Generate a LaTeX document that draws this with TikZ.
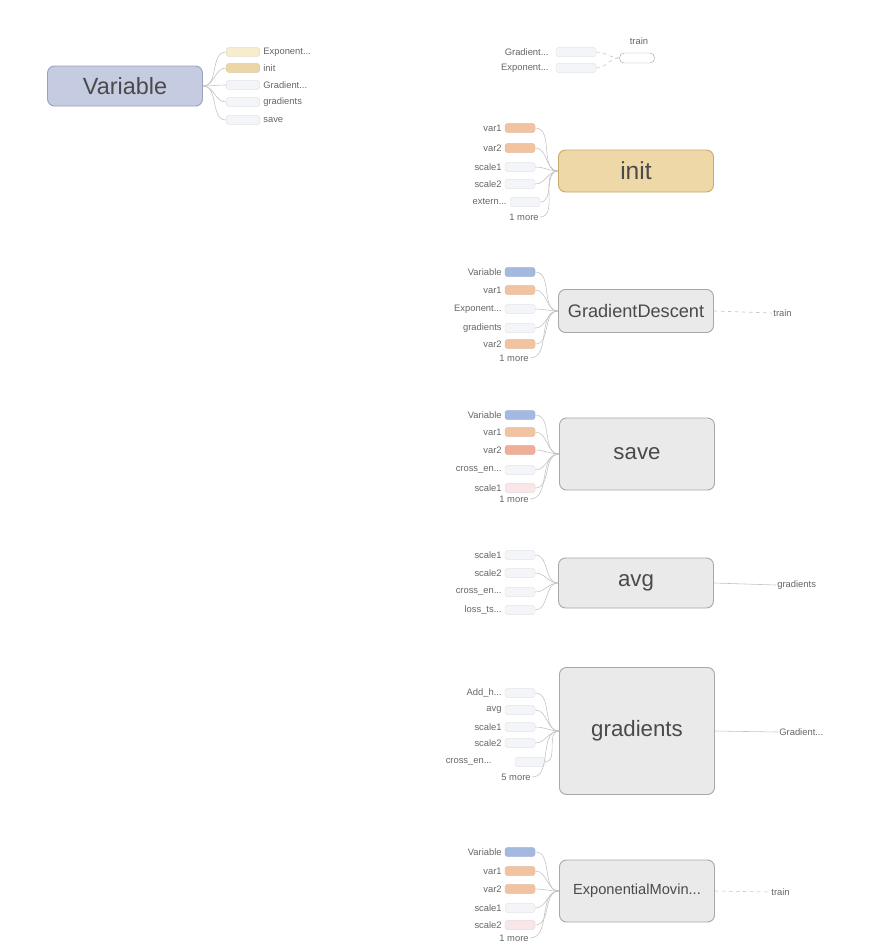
\documentclass[tikz,border=0pt]{standalone}
\usepackage{fontspec}
\setmainfont{Liberation Sans}
\definecolor{varfill}{HTML}{C5CBE1}
\definecolor{varline}{HTML}{9AA1BC}
\definecolor{initfill}{HTML}{EFD8A8}
\definecolor{initline}{HTML}{C9A96C}
\definecolor{opfill}{HTML}{EAEAEA}
\definecolor{opline}{HTML}{A8A8A8}
\definecolor{optext}{HTML}{4A4A4A}
\definecolor{lbltext}{HTML}{666666}
\definecolor{stubor}{HTML}{F2C3A0}
\definecolor{stubrd}{HTML}{EFAE96}
\definecolor{stubbl}{HTML}{A3B9DF}
\definecolor{stubtn}{HTML}{ECD5A6}
\definecolor{stubyl}{HTML}{F6EDCF}
\definecolor{stublt}{HTML}{F3F5F9}
\definecolor{stubpk}{HTML}{F8E6E8}
\definecolor{edgec}{HTML}{C4C4C4}

\tikzset{
  op/.style={draw=opline, fill=opfill, rounded corners=6pt, line width=0.8pt,
    minimum width=46.5mm, font=\fontsize{19}{19}\selectfont, text=optext},
  lbl/.style={anchor=east, font=\fontsize{8}{8}\selectfont, text=lbltext, inner sep=1pt},
  lblr/.style={anchor=west, font=\fontsize{8}{8}\selectfont, text=lbltext, inner sep=1pt},
  stub/.style={fill=#1, draw=#1!85!gray, rounded corners=1.5pt,
    minimum width=9mm, minimum height=2.6mm, inner sep=0pt},
  edge/.style={draw=edgec, line width=0.5pt}
}

\begin{document}
\begin{tikzpicture}[x=0.3mm,y=-0.3mm]
  \useasboundingbox[fill=white] (0,0) rectangle (870,951);

  % Variable
  \node[op, draw=varline, fill=varfill, minimum height=12mm, font=\fontsize{20}{20}\selectfont] at (125,86) (Variable) {Variable};

  \node[stub=stubyl, minimum width=10mm] at (243,52) (v1) {};
  \node[stub=stubtn, minimum width=10mm] at (243,68) (v2) {};
  \node[stub=stublt, minimum width=10mm] at (243,85) (v3) {};
  \node[stub=stublt, minimum width=10mm] at (243,102) (v4) {};
  \node[stub=stublt, minimum width=10mm] at (243,120) (v5) {};

  \node[lblr] at (262,52) (v1-l) {Exponent...};
  \node[lblr] at (262,68) (v2-l) {init};
  \node[lblr] at (262,85) (v3-l) {Gradient...};
  \node[lblr] at (262,102) (v4-l) {gradients};
  \node[lblr] at (262,120) (v5-l) {save};

  \draw[edge] (Variable.east) to[out=0,in=180] (v1.west);
  \draw[edge] (Variable.east) to[out=0,in=180] (v2.west);
  \draw[edge] (Variable.east) to[out=0,in=180] (v3.west);
  \draw[edge] (Variable.east) to[out=0,in=180] (v4.west);
  \draw[edge] (Variable.east) to[out=0,in=180] (v5.west);

  % train
  \node[draw=opline, fill=white, rounded corners=4pt, minimum width=10.5mm, minimum height=3mm, inner sep=0pt] at (637,58) (train) {};
  \node[font=\fontsize{8}{8}\selectfont, text=lbltext] at (639,41) (train-l) {train};
  \node[lbl] at (550,52) (t1-l) {Gradient...};
  \node[lbl] at (550,68) (t2-l) {Exponent...};
  \node[stub=stublt, minimum width=12mm] at (576,52) (t1) {};
  \node[stub=stublt, minimum width=12mm] at (576,68) (t2) {};
  \draw[edge, dashed] (t1.east) to[out=0,in=180] (train.west);
  \draw[edge, dashed] (t2.east) to[out=0,in=180] (train.west);

  % init
  \node[op, draw=initline, fill=initfill, minimum height=12.6mm, font=\fontsize{21}{21}\selectfont] at (636,171) (init) {init};

  \node[stub=stubor] at (520,128) (i1) {};
  \node[stub=stubor] at (520,148) (i2) {};
  \node[stub=stublt] at (520,167) (i3) {};
  \node[stub=stublt] at (520,184) (i4) {};
  \node[stub=stublt] at (525,202) (i5) {};

  \node[lbl] at (503,128) (i1-l) {var1};
  \node[lbl] at (503,148) (i2-l) {var2};
  \node[lbl] at (503,167) (i3-l) {scale1};
  \node[lbl] at (503,184) (i4-l) {scale2};
  \node[lbl] at (508,202) (i5-l) {extern...};
  \node[lbl] at (540,217) (i6-l) {1 more};

  \draw[edge] (i1.east) to[out=0,in=180] (init.west);
  \draw[edge] (i2.east) to[out=0,in=180] (init.west);
  \draw[edge] (i3.east) to[out=0,in=180] (init.west);
  \draw[edge] (i4.east) to[out=0,in=180] (init.west);
  \draw[edge] (i5.east) to[out=0,in=180] (init.west);
  \draw[edge] (i6-l.east) to[out=0,in=180] (init.west);

  % GradientDescent
  \node[op, minimum height=12.9mm, font=\fontsize{15.5}{15.5}\selectfont] at (636,311) (GD) {GradientDescent};

  \node[stub=stubbl] at (520,272) (g1) {};
  \node[stub=stubor] at (520,290) (g2) {};
  \node[stub=stublt] at (520,309) (g3) {};
  \node[stub=stublt] at (520,328) (g4) {};
  \node[stub=stubor] at (520,344) (g5) {};

  \node[lbl] at (503,272) (g1-l) {Variable};
  \node[lbl] at (503,290) (g2-l) {var1};
  \node[lbl] at (503,309) (g3-l) {Exponent...};
  \node[lbl] at (503,328) (g4-l) {gradients};
  \node[lbl] at (503,344) (g5-l) {var2};
  \node[lbl] at (530,358) (g6-l) {1 more};

  \draw[edge] (g1.east) to[out=0,in=180] (GD.west);
  \draw[edge] (g2.east) to[out=0,in=180] (GD.west);
  \draw[edge] (g3.east) to[out=0,in=180] (GD.west);
  \draw[edge] (g4.east) to[out=0,in=180] (GD.west);
  \draw[edge] (g5.east) to[out=0,in=180] (GD.west);
  \draw[edge] (g6-l.east) to[out=0,in=180] (GD.west);

  \node[lblr] at (772,313) (GD-out) {train};
  \draw[edge, dashed] (GD.east) -- (GD-out.west);

  % save
  \node[op, minimum height=21.6mm] at (637,454) (save) {save};

  \node[stub=stubbl] at (520,415) (s1) {};
  \node[stub=stubor] at (520,432) (s2) {};
  \node[stub=stubrd] at (520,450) (s3) {};
  \node[stub=stublt] at (520,470) (s4) {};
  \node[stub=stubpk] at (520,488) (s5) {};

  \node[lbl] at (503,415) (s1-l) {Variable};
  \node[lbl] at (503,432) (s2-l) {var1};
  \node[lbl] at (503,450) (s3-l) {var2};
  \node[lbl] at (503,470) (s4-l) {cross\_en...};
  \node[lbl] at (503,488) (s5-l) {scale1};
  \node[lbl] at (530,499) (s6-l) {1 more};

  \draw[edge] (s1.east) to[out=0,in=180] (save.west);
  \draw[edge] (s2.east) to[out=0,in=180] (save.west);
  \draw[edge] (s3.east) to[out=0,in=180] (save.west);
  \draw[edge] (s4.east) to[out=0,in=180] (save.west);
  \draw[edge] (s5.east) to[out=0,in=180] (save.west);
  \draw[edge] (s6-l.east) to[out=0,in=180] (save.west);

  % avg
  \node[op, minimum height=15mm] at (636,583) (avg) {avg};

  \node[stub=stublt] at (520,555) (a1) {};
  \node[stub=stublt] at (520,573) (a2) {};
  \node[stub=stublt] at (520,592) (a3) {};
  \node[stub=stublt] at (520,610) (a4) {};

  \node[lbl] at (503,555) (a1-l) {scale1};
  \node[lbl] at (503,573) (a2-l) {scale2};
  \node[lbl] at (503,592) (a3-l) {cross\_en...};
  \node[lbl] at (503,610) (a4-l) {loss\_ts...};

  \draw[edge] (a1.east) to[out=0,in=180] (avg.west);
  \draw[edge] (a2.east) to[out=0,in=180] (avg.west);
  \draw[edge] (a3.east) to[out=0,in=180] (avg.west);
  \draw[edge] (a4.east) to[out=0,in=180] (avg.west);

  \node[lblr] at (776,585) (avg-out) {gradients};
  \draw[edge] (avg.east) -- (avg-out.west);

  % gradients
  \node[op, minimum height=38.1mm] at (637,731) (grad) {gradients};

  \node[stub=stublt] at (520,693) (r1) {};
  \node[stub=stublt] at (520,710) (r2) {};
  \node[stub=stublt] at (520,727) (r3) {};
  \node[stub=stublt] at (520,743) (r4) {};
  \node[stub=stublt] at (530,762) (r5) {};

  \node[lbl] at (503,693) (r1-l) {Add\_h...};
  \node[lbl] at (503,710) (r2-l) {avg};
  \node[lbl] at (503,727) (r3-l) {scale1};
  \node[lbl] at (503,743) (r4-l) {scale2};
  \node[lbl] at (493,762) (r5-l) {cross\_en...};
  \node[lbl] at (532,777) (r6-l) {5 more};

  \draw[edge] (r1.east) to[out=0,in=180] (grad.west);
  \draw[edge] (r2.east) to[out=0,in=180] (grad.west);
  \draw[edge] (r3.east) to[out=0,in=180] (grad.west);
  \draw[edge] (r4.east) to[out=0,in=180] (grad.west);
  \draw[edge] (r5.east) to[out=0,in=180] (grad.west);
  \draw[edge] (r6-l.east) to[out=0,in=180] (grad.west);

  \node[lblr] at (778,732) (grad-out) {Gradient...};
  \draw[edge] (grad.east) -- (grad-out.west);

  % ExponentialMovingAverage
  \node[op, minimum height=18.6mm, font=\fontsize{12.5}{12.5}\selectfont] at (637,891) (EMA) {ExponentialMovin...};

  \node[stub=stubbl] at (520,852) (e1) {};
  \node[stub=stubor] at (520,871) (e2) {};
  \node[stub=stubor] at (520,889) (e3) {};
  \node[stub=stublt] at (520,908) (e4) {};
  \node[stub=stubpk] at (520,925) (e5) {};

  \node[lbl] at (503,852) (e1-l) {Variable};
  \node[lbl] at (503,871) (e2-l) {var1};
  \node[lbl] at (503,889) (e3-l) {var2};
  \node[lbl] at (503,908) (e4-l) {scale1};
  \node[lbl] at (503,925) (e5-l) {scale2};
  \node[lbl] at (530,938) (e6-l) {1 more};

  \draw[edge] (e1.east) to[out=0,in=180] (EMA.west);
  \draw[edge] (e2.east) to[out=0,in=180] (EMA.west);
  \draw[edge] (e3.east) to[out=0,in=180] (EMA.west);
  \draw[edge] (e4.east) to[out=0,in=180] (EMA.west);
  \draw[edge] (e5.east) to[out=0,in=180] (EMA.west);
  \draw[edge] (e6-l.east) to[out=0,in=180] (EMA.west);

  \node[lblr] at (770,892) (EMA-out) {train};
  \draw[edge, dashed] (EMA.east) -- (EMA-out.west);
\end{tikzpicture}
\end{document}
